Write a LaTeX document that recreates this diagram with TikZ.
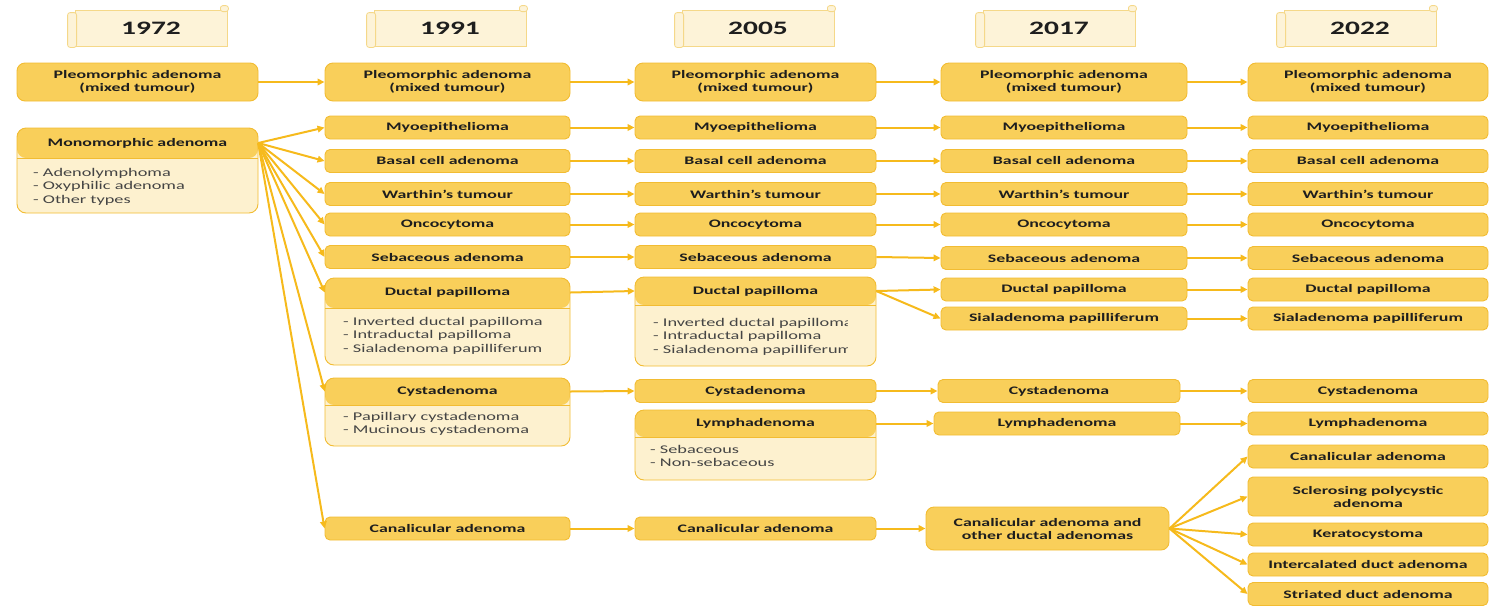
\documentclass[tikz,border=0pt]{standalone}
\usepackage{fontspec}
\setmainfont{Carlito}[FakeStretch=1.55]
\usetikzlibrary{arrows.meta}
\definecolor{boxc}{HTML}{F9CF5A}
\definecolor{edgec}{HTML}{F2BC32}
\definecolor{lightc}{HTML}{FDF1CF}
\definecolor{scrollc}{HTML}{FDF3D8}
\definecolor{scrolle}{HTML}{F5D889}
\definecolor{arrc}{HTML}{F6BA1C}
\definecolor{txtc}{HTML}{1E1E1E}
\definecolor{listc}{HTML}{444444}
\tikzset{
  tbox/.style={draw=edgec, fill=boxc, line width=0.9pt, rounded corners=5pt, inner sep=0pt,
    align=center, text=txtc, font=\bfseries\fontsize{11.5}{13}\selectfont},
  splitbox/.style={draw=edgec, fill=lightc, line width=0.9pt, rounded corners=9pt, inner sep=0pt,
    path picture={\fill[boxc] (path picture bounding box.north west) rectangle ([yshift=-#1]path picture bounding box.north east);
      \draw[edgec, line width=0.6pt] ([yshift=-#1]path picture bounding box.north west) -- ([yshift=-#1]path picture bounding box.north east);}},
  band/.style={inner sep=0pt, text=txtc, font=\bfseries\fontsize{11.5}{13}\selectfont},
  listtxt/.style={inner sep=0pt, anchor=north west, align=left, text=listc, font=\fontsize{11.8}{13.5}\selectfont},
  conn/.style={draw=arrc, line width=2pt, -{Triangle[length=7pt,width=6.5pt]}},
  scroll/.style={draw=scrolle, fill=scrollc, line width=0.8pt, minimum width=152pt, minimum height=36pt,
    inner sep=0pt, font=\bfseries\fontsize{19}{20}\selectfont, text=txtc},
  roll/.style={draw=scrolle, fill=scrollc, line width=0.8pt, rounded corners=2.5pt},
  wA/.style={minimum width=241pt}, wB/.style={minimum width=245pt}, wC/.style={minimum width=241pt},
  wD/.style={minimum width=246pt}, wE/.style={minimum width=240pt},
  hs/.style={minimum height=23pt}, hd/.style={minimum height=38pt}
}
\begin{document}
\begin{tikzpicture}[x=1pt, y=-1pt]
\useasboundingbox (0,0) rectangle (1493,606);
% year scrolls
\foreach \nm/\cx/\yr in {y1/151/1972, y2/450/1991, y3/758/2005, y4/1059/2017, y5/1360/2022}{
  \node[scroll] (\nm) at (\cx,28) {\yr};
  \draw[roll] ([xshift=-7pt,yshift=-3pt]\nm.north west) rectangle ([xshift=2pt,yshift=-1pt]\nm.south west);
  \draw[roll] ([xshift=-7pt,yshift=-2pt]\nm.north east) rectangle ([xshift=1pt,yshift=4pt]\nm.north east);
}
% column 1972
\node[tbox, wA, hd, rounded corners=8pt] (p1) at (137.5,82) {Pleomorphic adenoma\\(mixed tumour)};
\node[splitbox=30pt, wA, minimum height=85pt] (mono1box) at (137.5,170.5) {};
\node[band, wA, minimum height=30pt] (mono1) at (137.5,143) {Monomorphic adenoma};
\node[listtxt] (mono1l) at (33,168) {- Adenolymphoma\\- Oxyphilic adenoma\\- Other types};
% column 1991
\node[tbox, wB, hd, rounded corners=8pt] (p2) at (447.5,82) {Pleomorphic adenoma\\(mixed tumour)};
\node[tbox, wB, hs] (m2) at (447.5,127.5) {Myoepithelioma};
\node[tbox, wB, hs] (b2) at (447.5,161) {Basal cell adenoma};
\node[tbox, wB, hs] (w2) at (447.5,194) {Warthin's tumour};
\node[tbox, wB, hs] (o2) at (447.5,224.5) {Oncocytoma};
\node[tbox, wB, hs] (s2) at (447.5,257) {Sebaceous adenoma};
\node[splitbox=30pt, wB, minimum height=87pt] (dp2box) at (447.5,321.5) {};
\node[band, wB, minimum height=30pt] (dp2) at (447.5,292.5) {Ductal papilloma};
\node[listtxt] (dp2l) at (343,317) {- Inverted ductal papilloma\\- Intraductal papilloma\\- Sialadenoma papilliferum};
\node[splitbox=27pt, wB, minimum height=68pt] (cy2box) at (447.5,412) {};
\node[band, wB, minimum height=27pt] (cy2) at (447.5,391.5) {Cystadenoma};
\node[listtxt] (cy2l) at (343,412) {- Papillary cystadenoma\\- Mucinous cystadenoma};
\node[tbox, wB, hs] (ca2) at (447.5,528.5) {Canalicular adenoma};
% column 2005
\node[tbox, wC, hd, rounded corners=8pt] (p3) at (755.5,82) {Pleomorphic adenoma\\(mixed tumour)};
\node[tbox, wC, hs] (m3) at (755.5,127.5) {Myoepithelioma};
\node[tbox, wC, hs] (b3) at (755.5,161) {Basal cell adenoma};
\node[tbox, wC, hs] (w3) at (755.5,194) {Warthin's tumour};
\node[tbox, wC, hs] (o3) at (755.5,224.5) {Oncocytoma};
\node[tbox, wC, hs] (s3) at (755.5,257) {Sebaceous adenoma};
\node[splitbox=28pt, wC, minimum height=89pt] (dp3box) at (755.5,321.5) {};
\node[band, wC, minimum height=28pt] (dp3) at (755.5,291) {Ductal papilloma};
\begin{scope}
\clip (640,306) rectangle (847,366);
\node[listtxt] (dp3l) at (653,318) {- Inverted ductal papilloma\\- Intraductal papilloma\\- Sialadenoma papilliferum};
\end{scope}
\node[tbox, wC, hs] (cy3) at (755.5,391) {Cystadenoma};
\node[splitbox=27pt, wC, minimum height=70pt] (ly3box) at (755.5,445) {};
\node[band, wC, minimum height=27pt] (ly3) at (755.5,423.5) {Lymphadenoma};
\node[listtxt] (ly3l) at (650,445) {- Sebaceous\\- Non-sebaceous};
\node[tbox, wC, hs] (ca3) at (755.5,528.5) {Canalicular adenoma};
% column 2017
\node[tbox, wD, hd, rounded corners=8pt] (p4) at (1064,82) {Pleomorphic adenoma\\(mixed tumour)};
\node[tbox, wD, hs] (m4) at (1064,127.5) {Myoepithelioma};
\node[tbox, wD, hs] (b4) at (1064,161) {Basal cell adenoma};
\node[tbox, wD, hs] (w4) at (1064,194) {Warthin's tumour};
\node[tbox, wD, hs] (o4) at (1064,224.5) {Oncocytoma};
\node[tbox, wD, hs] (s4) at (1064,258) {Sebaceous adenoma};
\node[tbox, wD, hs] (dp4) at (1064,289.5) {Ductal papilloma};
\node[tbox, wD, hs] (si4) at (1064,318.5) {Sialadenoma papilliferum};
\node[tbox, minimum width=242pt, hs] (cy4) at (1059,391) {Cystadenoma};
\node[tbox, minimum width=246pt, hs] (ly4) at (1057,423.5) {Lymphadenoma};
\node[tbox, minimum width=243pt, minimum height=43pt, rounded corners=8pt] (ca4) at (1047.5,528.5) {Canalicular adenoma and\\other ductal adenomas};
% column 2022
\node[tbox, wE, hd, rounded corners=8pt] (p5) at (1368,82) {Pleomorphic adenoma\\(mixed tumour)};
\node[tbox, wE, hs] (m5) at (1368,127.5) {Myoepithelioma};
\node[tbox, wE, hs] (b5) at (1368,161) {Basal cell adenoma};
\node[tbox, wE, hs] (w5) at (1368,194) {Warthin's tumour};
\node[tbox, wE, hs] (o5) at (1368,224.5) {Oncocytoma};
\node[tbox, wE, hs] (s5) at (1368,258) {Sebaceous adenoma};
\node[tbox, wE, hs] (dp5) at (1368,289.5) {Ductal papilloma};
\node[tbox, wE, hs] (si5) at (1368,318.5) {Sialadenoma papilliferum};
\node[tbox, wE, hs] (cy5) at (1368,391) {Cystadenoma};
\node[tbox, wE, hs] (ly5) at (1368,423.5) {Lymphadenoma};
\node[tbox, wE, hs] (ca5) at (1368,456.5) {Canalicular adenoma};
\node[tbox, wE, minimum height=39pt] (sc5) at (1368,496.5) {Sclerosing polycystic\\adenoma};
\node[tbox, wE, hs] (ke5) at (1368,534.5) {Keratocystoma};
\node[tbox, wE, hs] (ic5) at (1368,564.5) {Intercalated duct adenoma};
\node[tbox, wE, hs] (st5) at (1368,594) {Striated duct adenoma};
% connectors
\draw[conn] (p1.east) -- (p2.west);
\foreach \t in {m2,b2,w2,o2,s2,dp2,cy2,ca2} \draw[conn] (mono1.east) -- (\t.west);
\foreach \a/\b in {p2/p3,m2/m3,b2/b3,w2/w3,o2/o3,s2/s3,dp2/dp3,cy2/cy3,ca2/ca3,
  p3/p4,m3/m4,b3/b4,w3/w4,o3/o4,s3/s4,dp3/dp4,dp3/si4,cy3/cy4,ly3/ly4,ca3/ca4,
  p4/p5,m4/m5,b4/b5,w4/w5,o4/o5,s4/s5,dp4/dp5,si4/si5,cy4/cy5,ly4/ly5,
  ca4/ca5,ca4/sc5,ca4/ke5,ca4/ic5,ca4/st5}
  \draw[conn] (\a.east) -- (\b.west);
\end{tikzpicture}
\end{document}
